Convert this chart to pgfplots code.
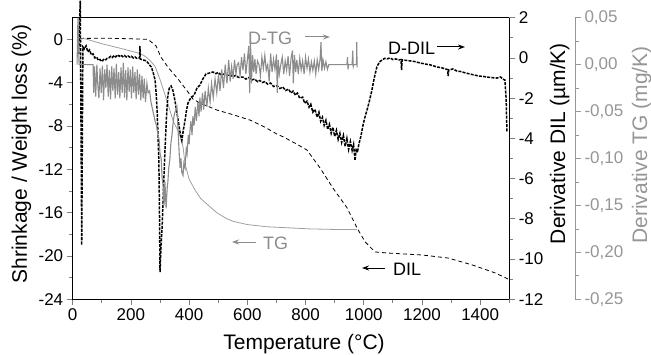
\documentclass[border=0pt]{standalone}
\usepackage{pgfplots}
\pgfplotsset{compat=1.18}
\usetikzlibrary{arrows.meta}
\usepackage{fontspec}
\setmainfont{Liberation Sans}
\definecolor{tgc}{RGB}{160,160,160}
\definecolor{dtgc}{RGB}{140,140,140}
\definecolor{axgray}{RGB}{150,150,150}
\begin{document}
\begin{tikzpicture}
\useasboundingbox (-72.7pt,-54.7pt) rectangle (578.3pt,299.3pt);
\pgfplotsset{
  base/.style={
    scale only axis, width=436.6pt, height=281.6pt,
    at={(0pt,0pt)}, anchor=south west,
    xmin=0, xmax=1500,
    tick label style={font=\fontsize{17}{20}\selectfont},
    /pgf/number format/assume math mode=true,
    /pgf/number format/set thousands separator={},
    tick align=outside,
    major tick length=6pt, minor tick length=3.5pt,
    axis line style={line width=0.9pt},
    every tick/.append style={line width=0.8pt},
  },
}
% ---------------- main axis: DIL and TG ----------------
\begin{axis}[base,
  ymin=-24, ymax=2,
  xtick={0,200,...,1400}, minor xtick={100,300,...,1500},
  ytick={-24,-20,...,0}, minor ytick={-22,-18,...,-2},
  xtick pos=bottom, ytick pos=left,
  xlabel={Temperature (°C)},
  ylabel={Shrinkage / Weight loss (\%)},
  every axis x label/.style={at={(axis description cs:0.530,-0.1797)}, anchor=base, font=\fontsize{21}{25}\selectfont},
  every axis y label/.style={at={(axis description cs:-0.1047,0.516)}, anchor=base, rotate=90, font=\fontsize{21}{25}\selectfont},
]
% DIL (shrinkage)
\addplot[black, line width=0.8pt, dash pattern=on 4pt off 3pt] table {
x y
25 0.05
35 0.09
128 0.1
231 0.03
259 0.0
266 -0.16
286 -0.59
303 -1.63
327 -2.56
362 -3.66
396 -4.86
413 -5.51
437 -5.88
496 -6.53
550 -6.95
609 -7.45
660 -8.1
702 -8.75
723 -9.0
765 -9.6
805 -10.22
850 -11.88
894 -13.73
943 -15.57
977 -17.42
1005 -18.71
1039 -19.63
1084 -19.73
1201 -19.91
1290 -20.19
1373 -20.83
1452 -21.57
1496 -22.13
};
% TG (weight loss)
\addplot[tgc, line width=0.8pt] table {
x y
25 0.05
43 0.05
100 -0.4
160 -0.8
231 -1.3
248 -1.55
266 -1.95
283 -2.5
300 -3.7
323 -5.6
346 -7.6
365 -8.6
379 -9.9
386 -11.5
400 -12.9
420 -13.9
440 -14.7
465 -15.3
495 -16.0
525 -16.5
551 -16.8
600 -17.1
667 -17.3
740 -17.4
815 -17.5
900 -17.55
977 -17.55
};
\end{axis}
% ---------------- D-DIL axis ----------------
\begin{axis}[base,
  ymin=-12, ymax=2,
  axis y line*=right, axis x line=none,
  ytick={-12,-10,...,2}, minor ytick={-11,-9,...,1},
  ylabel={Derivative DIL (µm/K)},
  every axis y label/.style={at={(axis description cs:1.1276,0.553)}, anchor=base, rotate=90, font=\fontsize{21}{25}\selectfont},
  clip=false,
]
\addplot[black, line width=1.5pt, dash pattern=on 3pt off 1.2pt] table {
x y
20 0.2
26 2.85
31 -9.3
35 0.55
40 0.45
46 0.6
52 0.3
58 0.4
64 0.15
70 0.2
76 0.0
82 0.05
88 -0.12
94 -0.08
100 -0.18
106 -0.08
112 -0.12
118 -0.02
124 0.0
130 0.08
136 0.02
142 0.12
148 0.05
154 0.15
160 0.08
166 0.14
172 0.06
178 0.12
184 0.05
190 0.1
196 0.04
202 0.08
208 0.0
214 0.05
220 -0.02
226 0.0
230 0.0
231 0.6
232 -0.05
240 -0.1
248 -0.12
256 -0.2
264 -0.35
270 -0.45
276 -0.7
283 -1.1
287 -1.8
290 -2.6
293 -3.8
296 -5.1
298 -7.5
300 -10.65
303 -9.5
307 -8.5
312 -6.5
317 -4.6
322 -3.0
327 -1.85
332 -1.5
338 -1.4
344 -1.6
351 -2.1
358 -2.7
365 -3.35
370 -3.8
375 -4.1
380 -3.6
386 -3.1
391 -2.6
396 -2.25
405 -2.0
417 -1.85
427 -1.5
437 -1.35
447 -1.05
458 -0.8
470 -0.75
482 -0.7
492 -0.78
500 -0.72
510 -0.85
520 -0.8
531 -0.88
540 -0.82
550 -0.93
560 -0.87
570 -0.97
585 -0.95
595 -1.05
605 -0.98
615 -1.1
625 -1.05
635 -1.18
643 -1.12
652 -1.22
660 -1.18
670 -1.3
680 -1.25
690 -1.42
702 -1.38
712 -1.52
722 -1.45
732 -1.62
742 -1.55
750 -1.75
757 -1.65
765 -1.85
772 -1.75
780 -2.0
790 -1.95
797 -2.25
805 -2.15
812 -2.45
818 -2.3
825 -2.7
832 -2.55
840 -2.95
846 -2.7
852 -3.15
858 -2.95
864 -3.35
870 -3.1
876 -3.55
882 -3.3
888 -3.75
894 -3.45
900 -3.9
906 -3.6
912 -4.05
918 -3.75
924 -4.2
930 -3.85
936 -4.4
942 -4.0
948 -4.55
954 -4.15
960 -4.6
965 -4.3
970 -5.1
974 -4.5
978 -4.7
983 -4.3
990 -3.9
998 -3.3
1005 -2.9
1011 -2.6
1020 -2.1
1028 -1.6
1036 -1.0
1045 -0.45
1054 -0.2
1063 -0.1
1072 -0.02
1080 -0.05
1090 0.0
1100 -0.08
1110 -0.05
1120 -0.1
1128 -0.08
1130 -0.6
1132 -0.1
1145 -0.12
1160 -0.15
1175 -0.18
1193 -0.25
1210 -0.3
1230 -0.35
1252 -0.45
1270 -0.5
1288 -0.58
1290 -0.9
1292 -0.6
1306 -0.55
1320 -0.65
1335 -0.68
1350 -0.75
1365 -0.8
1380 -0.85
1395 -0.9
1410 -0.92
1423 -0.95
1440 -0.98
1458 -1.0
1470 -0.95
1478 -1.05
1485 -1.1
1489 -2.0
1492 -3.7
};
\end{axis}
% ---------------- D-TG axis ----------------
\begin{axis}[base,
  ymin=-0.25, ymax=0.05,
  axis y line*=right, axis x line=none,
  axis y line shift=65.7pt,
  axis line style={axgray, line width=0.9pt},
  every tick/.append style={axgray},
  ytick={-0.25,-0.2,-0.15,-0.1,-0.05,0,0.05},
  minor ytick={-0.225,-0.175,-0.125,-0.075,-0.025,0.025},
  scaled y ticks=false,
  yticklabel style={axgray, /pgf/number format/.cd, fixed, fixed zerofill, precision=2, use comma},
  ylabel={Derivative TG (mg/K)},
  every axis y label/.style={at={(axis description cs:1.3154,0.548)}, anchor=base, rotate=90, axgray, font=\fontsize{21}{25}\selectfont},
  clip=false,
]
\addplot[dtgc, line width=1.1pt] table {
x y
15 0.0
18 0.05
22 0.0
35 0.0
70 0.0
72 -0.03
75 -0.002
79 -0.034
83 0.0
86 -0.02
90 -0.036
94 -0.004
98 -0.03
102 -0.001
106 -0.038
110 -0.005
114 -0.025
118 0.0
122 -0.034
126 -0.006
130 -0.037
134 -0.002
138 -0.028
142 -0.004
146 -0.036
150 0.001
154 -0.032
158 -0.008
162 -0.036
166 -0.003
170 -0.03
174 0.002
178 -0.035
182 -0.006
186 -0.038
190 -0.003
194 -0.029
198 -0.005
202 -0.036
206 -0.002
210 -0.03
214 -0.008
218 -0.037
222 -0.005
226 -0.032
230 -0.01
234 -0.038
238 -0.012
242 -0.036
246 -0.015
250 -0.04
255 -0.02
259 -0.03
264 -0.028
269 -0.04
276 -0.05
283 -0.06
288 -0.065
293 -0.075
297 -0.08
300 -0.095
304 -0.1
307 -0.12
311 -0.13
314 -0.15
316 -0.13
317 -0.125
319 -0.14
321 -0.153
323 -0.14
325 -0.13
327 -0.125
330 -0.11
334 -0.1
337 -0.085
341 -0.075
344 -0.065
348 -0.055
352 -0.05
358 -0.045
362 -0.07
366 -0.095
369 -0.11
372 -0.1
375 -0.115
379 -0.118
382 -0.105
386 -0.11
390 -0.09
393 -0.095
397 -0.075
400 -0.085
403 -0.07
406 -0.06
410 -0.075
413 -0.055
417 -0.065
421 -0.045
425 -0.06
430 -0.04
434 -0.055
437 -0.035
441 -0.05
446 -0.03
450 -0.048
455 -0.028
461 -0.045
466 -0.025
472 -0.04
477 -0.02
483 -0.035
489 -0.015
495 -0.03
501 -0.01
506 -0.028
512 -0.005
518 -0.025
524 0.0
530 -0.02
536 0.005
541 -0.018
546 -0.002
551 -0.015
556 0.005
561 -0.01
565 0.0
570 0.002
575 -0.012
580 0.008
585 -0.006
590 0.012
595 -0.01
600 0.005
605 0.02
608 -0.03
611 0.025
614 -0.02
618 0.01
622 -0.008
626 0.006
630 -0.01
635 0.004
640 0.0
645 -0.012
650 0.008
655 -0.004
660 0.01
665 -0.006
670 0.0
675 -0.018
680 0.012
685 -0.008
690 0.006
695 -0.005
700 0.011
703 -0.03
706 0.005
710 -0.01
715 0.0
720 0.008
725 -0.01
730 0.004
735 -0.006
740 0.009
745 -0.012
750 0.006
755 0.015
758 -0.02
762 0.01
766 -0.008
770 0.005
775 -0.01
780 0.007
785 -0.006
790 0.004
795 -0.01
800 0.008
805 -0.004
810 0.006
815 -0.008
820 0.003
825 -0.006
830 0.004
835 -0.01
840 0.005
845 -0.005
850 0.006
853 0.024
856 -0.007
860 0.005
865 -0.004
870 0.003
875 -0.005
880 0.0
884 0.0
942 0.0
944 0.008
946 -0.005
948 0.0
960 0.0
962 0.015
964 -0.002
966 0.0
975 0.0
976 0.024
977 -0.003
};
\end{axis}
% ---------------- annotations ----------------
\node[anchor=west, inner sep=0, font=\fontsize{18}{20}\selectfont, dtgc] at (175.3pt,261.3pt) {D-TG};
\draw[dtgc, line width=1pt, -{Stealth[length=7pt,width=5pt]}] (232.3pt,262.3pt) -- (257.3pt,262.3pt);
\node[anchor=west, inner sep=0, font=\fontsize{18}{20}\selectfont, black] at (315.3pt,251.3pt) {D-DIL};
\draw[black, line width=1pt, -{Stealth[length=7pt,width=5pt]}] (364.3pt,252.3pt) -- (392.3pt,252.3pt);
\node[anchor=west, inner sep=0, font=\fontsize{18}{20}\selectfont, dtgc] at (190.3pt,56.3pt) {TG};
\draw[dtgc, line width=1pt, -{Stealth[length=7pt,width=5pt]}] (183.3pt,57.3pt) -- (159.3pt,57.3pt);
\node[anchor=west, inner sep=0, font=\fontsize{18}{20}\selectfont, black] at (320.3pt,30.3pt) {DIL};
\draw[black, line width=1pt, -{Stealth[length=7pt,width=5pt]}] (312.3pt,31.3pt) -- (289.3pt,31.3pt);
\end{tikzpicture}
\end{document}
